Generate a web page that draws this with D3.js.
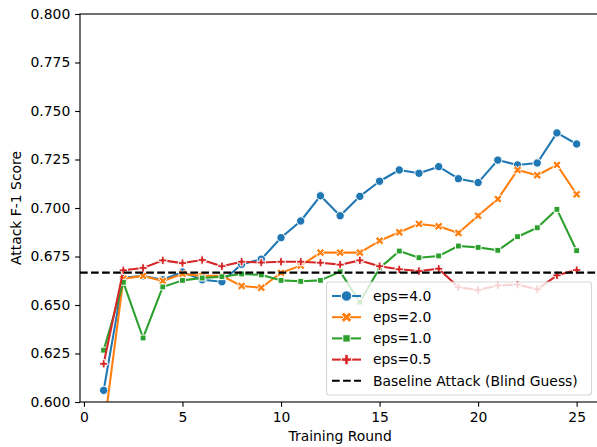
<!DOCTYPE html>
<html>
<head>
<meta charset="utf-8">
<script src="https://cdn.jsdelivr.net/npm/d3@7"></script>
<style>
html,body{margin:0;padding:0;background:#fff;}
svg{display:block;font-family:"DejaVu Sans",sans-serif;}
</style>
</head>
<body>
<svg id="chart" width="597" height="447"></svg>
<script>
const rounds = d3.range(1, 26);
const eps40 = [0.606,0.664,0.665,0.663,0.667,0.663,0.662,0.671,0.6736,0.6847,0.6933,0.7063,0.696,0.706,0.7138,0.7196,0.7179,0.7213,0.7151,0.7131,0.7247,0.7222,0.7232,0.7387,0.733];
const eps20 = [0.585,0.6635,0.665,0.6624,0.666,0.665,0.665,0.6598,0.6589,0.6666,0.6703,0.677,0.677,0.677,0.6831,0.6875,0.6918,0.6906,0.6871,0.696,0.7046,0.7196,0.7169,0.7222,0.7071];
const eps10 = [0.6267,0.6617,0.633,0.6593,0.6627,0.6639,0.6646,0.666,0.6655,0.6627,0.6622,0.6627,0.6672,0.6515,0.669,0.6778,0.6744,0.6753,0.6804,0.6797,0.6782,0.6852,0.6898,0.6993,0.678];
const eps05 = [0.6197,0.6679,0.6691,0.673,0.6716,0.6732,0.67,0.6723,0.6719,0.6723,0.6723,0.6718,0.6708,0.673,0.67,0.6684,0.6675,0.6687,0.6591,0.6577,0.6601,0.6605,0.6581,0.6653,0.668];
const baseline = 0.6667;
const seriesNames = ["eps=4.0","eps=2.0","eps=1.0","eps=0.5"];
const seriesValues = [eps40, eps20, eps10, eps05];
const colors = ["#1f77b4","#ff7f0e","#2ca02c","#d62728"];
const markerKinds = ["circle","x","square","plus"];
const baselineLabel = "Baseline Attack (Blind Guess)";
const xTicks = [0,5,10,15,20,25];
const yTicks = d3.range(0,9).map(i => 0.6 + i*0.025);

const svg = d3.select("#chart");
const L = 80, R = 600.3, T = 14, B = 402;
const x = d3.scaleLinear().domain([-0.2, 26.2]).range([L, R]);
const y = d3.scaleLinear().domain([0.6, 0.8]).range([B, T]);
const fs = 13.9;
const ms = 8.33;

function markerPath(kind, s) {
  const h = s/2;
  if (kind === "circle") {
    const p = d3.path(); p.arc(0,0,h,0,2*Math.PI); p.closePath(); return p.toString();
  }
  if (kind === "square") {
    const a = h/Math.SQRT2;
    return `M${-a},${-a}L${a},${-a}L${a},${a}L${-a},${a}Z`;
  }
  let pts;
  if (kind === "plus") {
    pts = [[-1,-3],[1,-3],[1,-1],[3,-1],[3,1],[1,1],[1,3],[-1,3],[-1,1],[-3,1],[-3,-1],[-1,-1]].map(p=>[p[0]/6*s,p[1]/6*s]);
  } else {
    pts = [[-1,-2],[0,-1],[1,-2],[2,-1],[1,0],[2,1],[1,2],[0,1],[-1,2],[-2,1],[-1,0],[-2,-1]].map(p=>[p[0]/4*s,p[1]/4*s]);
  }
  return "M" + pts.map(p=>p.join(",")).join("L") + "Z";
}

svg.append("defs").append("clipPath").attr("id","clip")
  .append("rect").attr("x",L).attr("y",T).attr("width",R-L).attr("height",B-T);

const plot = svg.append("g").attr("clip-path","url(#clip)");

const line = d3.line().x((d,i)=>x(rounds[i])).y(d=>y(d));
seriesValues.forEach((vals, si) => {
  const g = plot.append("g");
  g.append("path").datum(vals).attr("d", line)
    .attr("fill","none").attr("stroke",colors[si]).attr("stroke-width",2.08)
    .attr("stroke-linejoin","round").attr("stroke-linecap","round");
  g.selectAll("path.m").data(vals).enter().append("path").attr("class","m")
    .attr("transform",(d,i)=>`translate(${x(rounds[i])},${y(d)})`)
    .attr("d", markerPath(markerKinds[si], ms))
    .attr("fill",colors[si]).attr("stroke","#fff").attr("stroke-width",1.0);
});

plot.append("line").attr("x1",L).attr("x2",R).attr("y1",y(baseline)).attr("y2",y(baseline))
  .attr("stroke","#000").attr("stroke-width",2.08).attr("stroke-dasharray","7.7,3.33");

const xAxis = d3.axisBottom(x).tickValues(xTicks).tickSize(4.86).tickPadding(4.86).tickFormat(d3.format("d"));
const yAxis = d3.axisLeft(y).tickValues(yTicks).tickSize(4.86).tickPadding(4.86).tickFormat(d3.format(".3f"));
const gx = svg.append("g").attr("transform",`translate(0,${B})`).call(xAxis);
const gy = svg.append("g").attr("transform",`translate(${L},0)`).call(yAxis);
[gx, gy].forEach(g => {
  g.select(".domain").remove();
  g.selectAll(".tick line").attr("stroke","#000").attr("stroke-width",1.11);
  g.selectAll(".tick text").attr("fill","#000").attr("font-size",fs).attr("font-family","DejaVu Sans");
});
svg.append("rect").attr("x",L).attr("y",T).attr("width",R-L).attr("height",B-T)
  .attr("fill","none").attr("stroke","#000").attr("stroke-width",1.11);

svg.append("text").attr("x",(L+R)/2).attr("y",440.5).attr("text-anchor","middle")
  .attr("font-size",fs).attr("fill","#000").text("Training Round");
svg.append("text").attr("transform",`translate(20.5,${(T+B)/2}) rotate(-90)`).attr("text-anchor","middle")
  .attr("font-size",fs).attr("fill","#000").text("Attack F-1 Score");

const lg = svg.append("g");
lg.append("rect").attr("x",326.5).attr("y",282).attr("width",265).attr("height",113).attr("rx",2.8)
  .attr("fill","#fff").attr("fill-opacity",0.8).attr("stroke","#cccccc").attr("stroke-opacity",0.8).attr("stroke-width",1.11);
const rowY = [296, 317.2, 338.4, 359.6, 380.8];
const hx0 = 332, hx1 = 361;
seriesNames.forEach((name, si) => {
  lg.append("line").attr("x1",hx0).attr("x2",hx1).attr("y1",rowY[si]).attr("y2",rowY[si])
    .attr("stroke",colors[si]).attr("stroke-width",2.08);
  lg.append("path").attr("transform",`translate(${(hx0+hx1)/2},${rowY[si]})`)
    .attr("d", markerPath(markerKinds[si], ms * 1.25)).attr("fill",colors[si]).attr("stroke","#fff").attr("stroke-width",1.0);
  lg.append("text").attr("x",373).attr("y",rowY[si]).attr("dy","0.35em").attr("font-size",fs).attr("fill","#000").text(name);
});
lg.append("line").attr("x1",hx0).attr("x2",hx1).attr("y1",rowY[4]).attr("y2",rowY[4])
  .attr("stroke","#000").attr("stroke-width",2.08).attr("stroke-dasharray","7.7,3.33");
lg.append("text").attr("x",373).attr("y",rowY[4]).attr("dy","0.35em").attr("font-size",fs).attr("fill","#000").text(baselineLabel);
</script>
</body>
</html>
